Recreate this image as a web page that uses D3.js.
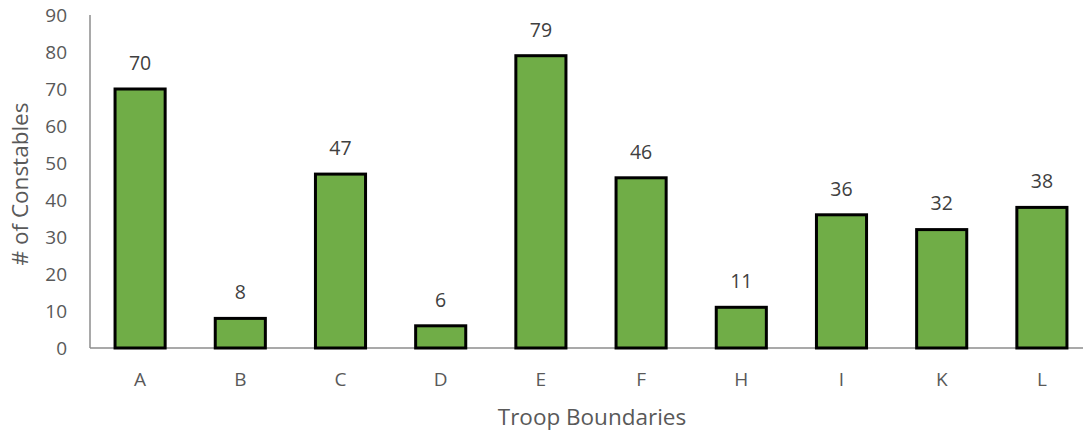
<!DOCTYPE html>
<html><head><meta charset="utf-8">
<script src="https://cdn.jsdelivr.net/npm/d3@7"></script>
<style>body{margin:0;background:#fff}text{font-family:"Open Sans",sans-serif}</style>
</head><body>
<svg id="c" width="1083" height="432"></svg>
<script>
const categories = ["A","B","C","D","E","F","H","I","K","L"];
const values = [70,8,47,6,79,46,11,36,32,38];
const yTicks = [0,10,20,30,40,50,60,70,80,90];

const svg = d3.select("#c");
const x = d3.scaleBand().domain(categories).range([90,1092]).paddingInner(0.5).paddingOuter(0.25);
const y = d3.scaleLinear().domain([0,90]).range([348,15]);

svg.append("line").attr("x1",90).attr("x2",90).attr("y1",y(90)).attr("y2",y(0)).attr("stroke","#8c8c8c").attr("stroke-width",1.5);
svg.append("line").attr("x1",90).attr("x2",1083).attr("y1",y(0)).attr("y2",y(0)).attr("stroke","#8c8c8c").attr("stroke-width",1.5);

svg.append("g").selectAll("text").data(yTicks).join("text")
  .attr("x",67).attr("y",d=>y(d)).attr("dy","0.35em").attr("text-anchor","end")
  .attr("fill","#595959").attr("font-size",19).text(d=>d);

svg.append("g").selectAll("text").data(categories).join("text")
  .attr("x",d=>x(d)+x.bandwidth()/2).attr("y",379).attr("dy","0.35em").attr("text-anchor","middle")
  .attr("fill","#595959").attr("font-size",19).text(d=>d);

svg.append("g").selectAll("rect").data(values).join("rect")
  .attr("x",(d,i)=>x(categories[i])).attr("width",x.bandwidth())
  .attr("y",d=>y(d)).attr("height",d=>y(0)-y(d))
  .attr("fill","#70AD47").attr("stroke","#000").attr("stroke-width",3);

svg.append("g").selectAll("text").data(values).join("text")
  .attr("x",(d,i)=>x(categories[i])+x.bandwidth()/2).attr("y",d=>y(d)-26).attr("dy","0.35em").attr("text-anchor","middle")
  .attr("fill","#404040").attr("font-size",19.5).text(d=>d);

svg.append("text").attr("transform","translate(20,184) rotate(-90)").attr("text-anchor","middle").attr("dy","0.35em")
  .attr("fill","#595959").attr("font-size",22.5).text("# of Constables");
svg.append("text").attr("x",592).attr("y",417).attr("text-anchor","middle").attr("dy","0.35em")
  .attr("fill","#595959").attr("font-size",22.5).text("Troop Boundaries");
</script>
</body></html>
